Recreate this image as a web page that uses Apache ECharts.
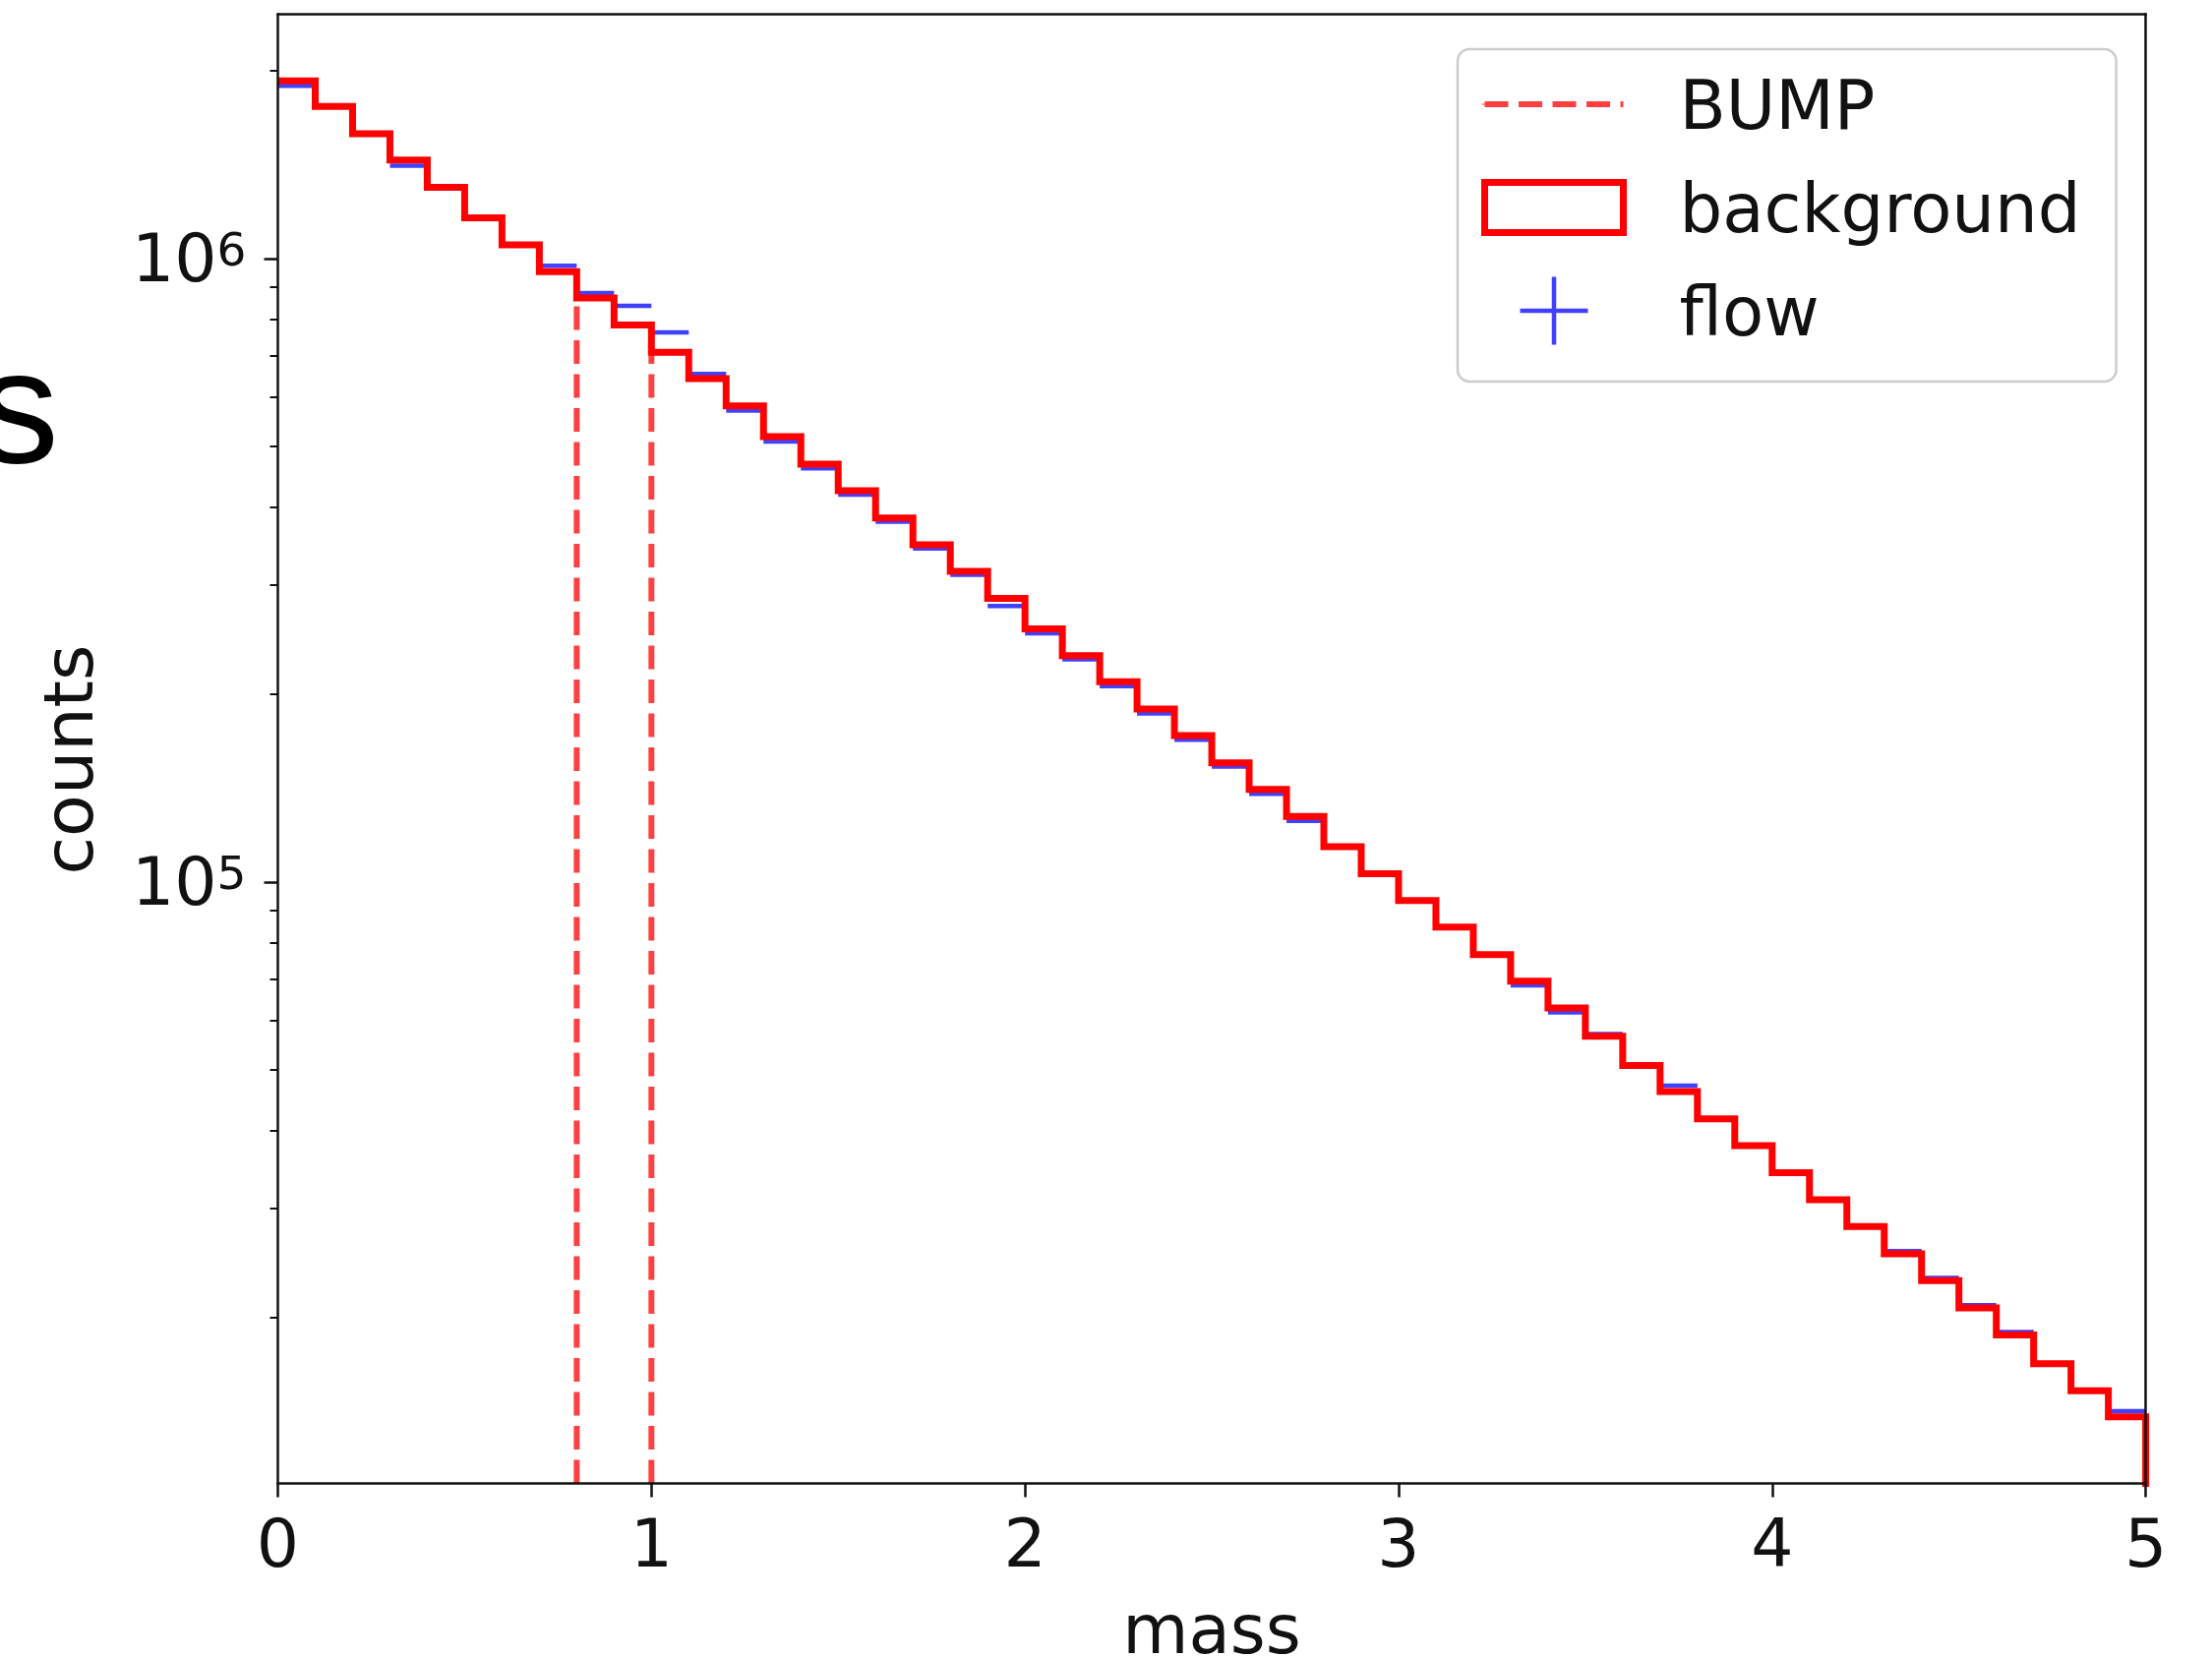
<!DOCTYPE html>
<html>
<head>
<meta charset="utf-8">
<script src="https://cdn.jsdelivr.net/npm/echarts@6/dist/echarts.min.js"></script>
<style>
html,body{margin:0;padding:0;background:#ffffff;}
#chart{width:2249px;height:1685px;}
</style>
</head>
<body>
<div id="chart"></div>
<script>
// ---------- data ----------
const binEdges = [0.0,0.1,0.2,0.3,0.4,0.5,0.6,0.7,0.8,0.9,1.0,1.1,1.2,1.3,1.4,1.5,1.6,1.7,1.8,1.9,
  2.0,2.1,2.2,2.3,2.4,2.5,2.6,2.7,2.8,2.9,3.0,3.1,3.2,3.3,3.4,3.5,3.6,3.7,3.8,3.9,
  4.0,4.1,4.2,4.3,4.4,4.5,4.6,4.7,4.8,4.9,5.0];

const background = [1929000,1754000,1587000,1440000,1302000,1163000,1052000,952800,865000,782500,
  707700,642300,580500,518300,468100,424400,383800,347500,315000,285300,
  254900,230900,209600,189500,171800,155400,140800,127500,114000,103200,
  93460,84710,76530,69370,62830,56620,50830,46130,41730,37780,
  34210,30940,28020,25340,22950,20750,18790,16890,15290,13880];

const flow = [1894000,1754000,1587000,1410000,1302000,1163000,1052000,973900,881000,840400,
  761600,653100,570900,509000,461000,418500,378500,342800,311100,277300,
  250800,227700,206200,186400,169200,153200,138600,125450,114000,103200,
  93460,84710,76530,68320,61800,57070,50830,47180,41730,37780,
  34210,30940,28020,25600,23190,20970,18980,16890,15290,14180];

const bumpEdges = [0.8, 1.0];
const bumpTops = [865000, 707700];

const xTicks = [0, 1, 2, 3, 4, 5];
const yMajorTicks = [100000, 1000000];
const yMinorTicks = [20000,30000,40000,50000,60000,70000,80000,90000,
  200000,300000,400000,500000,600000,700000,800000,900000,2000000];
const yRange = [10850, 2468000];
const xRange = [0, 5];

// ---------- build series ----------
const FONT = 'DejaVu Sans';
const TXT = '#111111';

const stepData = [];
for (let i = 0; i < background.length; i++) {
  stepData.push([binEdges[i], background[i]]);
  stepData.push([binEdges[i + 1], background[i]]);
}
stepData.push([binEdges[binEdges.length - 1], yRange[0] / 100]);

const flowData = flow.map((v, i) => [binEdges[i], binEdges[i + 1], v]);

const bumpSeries = bumpEdges.map((x, i) => ({
  name: 'BUMP',
  type: 'line',
  xAxisIndex: 0, yAxisIndex: 0,
  data: [[x, yRange[0]], [x, bumpTops[i]]],
  symbol: 'none',
  silent: true,
  z: 3,
  lineStyle: { color: 'rgba(255,0,0,0.75)', width: 6, type: [24, 10.5], cap: 'butt' },
  itemStyle: { color: 'rgba(255,0,0,0.75)' }
}));

const chart = echarts.init(document.getElementById('chart'), null, { renderer: 'canvas' });

const option = {
  animation: false,
  backgroundColor: '#ffffff',
  textStyle: { fontFamily: FONT },
  grid: { left: 282.5, top: 14.3, width: 1899.1, height: 1494.3, show: false,
          containLabel: false, outerBoundsMode: 'none' },
  xAxis: [
    {
      type: 'value', min: xRange[0], max: xRange[1], interval: 1, position: 'bottom', z: 10,
      name: 'mass', nameLocation: 'middle', nameGap: 120,
      nameTextStyle: { fontSize: 69, fontFamily: FONT, color: TXT },
      axisLine: { show: true, onZero: false, lineStyle: { color: '#111', width: 2.5 } },
      axisTick: { show: true, length: 14, customValues: xTicks, lineStyle: { color: '#111', width: 2.5 } },
      axisLabel: { show: true, customValues: xTicks, margin: 33, fontSize: 68, fontFamily: FONT, color: TXT },
      splitLine: { show: false }
    },
    {
      type: 'value', min: xRange[0], max: xRange[1], position: 'top', z: 10,
      axisLine: { show: true, onZero: false, lineStyle: { color: '#111', width: 2.5 } },
      axisTick: { show: false }, axisLabel: { show: false }, splitLine: { show: false }
    }
  ],
  yAxis: [
    {
      type: 'log', min: yRange[0], max: yRange[1], position: 'left', z: 10,
      name: 'counts', nameLocation: 'middle', nameGap: 172, nameRotate: 90,
      nameTextStyle: { fontSize: 70, fontFamily: FONT, color: TXT, padding: [0, 22, 0, 0] },
      axisLine: { show: true, onZero: false, lineStyle: { color: '#111', width: 2.5 } },
      axisTick: { show: true, length: 14, customValues: yMajorTicks, lineStyle: { color: '#111', width: 2.5 } },
      axisLabel: {
        show: true, customValues: yMajorTicks, margin: 32, padding: [10, 0, 0, 0],
        formatter: function (v) { return '{b|10}{s|' + Math.round(Math.log10(v)) + '}'; },
        rich: {
          b: { fontSize: 68, fontFamily: FONT, color: TXT, lineHeight: 68 },
          s: { fontSize: 47, fontFamily: FONT, color: TXT, lineHeight: 26, verticalAlign: 'top' }
        }
      },
      splitLine: { show: false }
    },
    {
      type: 'log', min: yRange[0], max: yRange[1], position: 'left', z: 10,
      axisLine: { show: false },
      axisTick: { show: true, length: 8, customValues: yMinorTicks, lineStyle: { color: '#111', width: 2 } },
      axisLabel: { show: false }, splitLine: { show: false }
    },
    {
      type: 'log', min: yRange[0], max: yRange[1], position: 'right', z: 10,
      axisLine: { show: true, onZero: false, lineStyle: { color: '#111', width: 2.5 } },
      axisTick: { show: false }, axisLabel: { show: false }, splitLine: { show: false }
    }
  ],
  legend: {
    orient: 'vertical', left: 1482, top: 50,
    itemWidth: 141, itemHeight: 69, itemGap: 21,
    padding: [14, 36, 30, 24],
    backgroundColor: 'rgba(255,255,255,0.8)',
    borderColor: '#cccccc', borderWidth: 2.5, borderRadius: 12,
    selectedMode: false,
    formatter: '{t|{name}}',
    textStyle: {
      fontSize: 69, fontFamily: FONT, color: TXT,
      rich: { t: { fontSize: 69, fontFamily: FONT, color: TXT, lineHeight: 57, padding: [15, 0, 0, 52] } }
    },
    data: [
      { name: 'BUMP', icon: 'path://M0,-0.5L0,0.5M0,0L141,0',
        itemStyle: { color: 'rgba(0,0,0,0)', borderColor: 'rgba(255,0,0,0.75)', borderWidth: 6, borderType: [24, 10.5], borderCap: 'butt' } },
      { name: 'background', icon: 'path://M0,0L141,0L141,51L0,51Z',
        itemStyle: { color: 'rgba(0,0,0,0)', borderColor: '#ff0000', borderWidth: 7, borderJoin: 'miter' } },
      { name: 'flow', icon: 'path://M7,0L7,14M0,7L14,7',
        itemStyle: { color: 'rgba(0,0,0,0)', borderColor: 'rgba(0,0,255,0.75)', borderWidth: 4.5, borderCap: 'butt' } }
    ]
  },
  graphic: [
    { type: 'text', x: -23, y: 424, z: 10,
      style: { text: 's', fontSize: 166, fontFamily: 'Liberation Sans', fill: '#000000', align: 'left', verticalAlign: 'middle' } }
  ],
  series: [
    {
      name: 'flow',
      type: 'custom',
      xAxisIndex: 0, yAxisIndex: 0,
      data: flowData,
      encode: { x: [0, 1], y: 2 },
      silent: true,
      z: 2,
      itemStyle: { color: 'rgba(0,0,255,0.75)' },
      renderItem: function (params, api) {
        const p0 = api.coord([api.value(0), api.value(2)]);
        const p1 = api.coord([api.value(1), api.value(2)]);
        return {
          type: 'line',
          shape: { x1: p0[0], y1: p0[1], x2: p1[0], y2: p1[1] },
          style: { stroke: 'rgba(0,0,255,0.75)', lineWidth: 4.5, lineCap: 'butt' }
        };
      }
    },
    ...bumpSeries,
    {
      name: 'background',
      type: 'line',
      xAxisIndex: 0, yAxisIndex: 0,
      data: stepData,
      symbol: 'none',
      silent: true,
      z: 4,
      lineStyle: { color: '#ff0000', width: 7, join: 'miter', cap: 'butt' },
      itemStyle: { color: '#ff0000' }
    }
  ]
};

chart.setOption(option);
</script>
</body>
</html>
